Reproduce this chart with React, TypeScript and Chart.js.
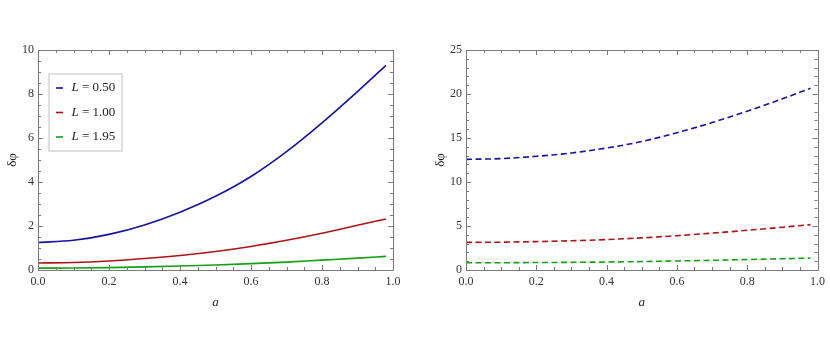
import React, { useEffect, useRef } from "react";
import { Chart, registerables } from "chart.js";

Chart.register(...registerables);

// ---- data ----
const aValues = [0, 0.1, 0.2, 0.3, 0.4, 0.5, 0.6, 0.7, 0.8, 0.9, 0.98];

// left panel (solid)
const leftL050 = [1.25, 1.35, 1.62, 2.05, 2.63, 3.35, 4.25, 5.38, 6.69, 8.11, 9.3];
const leftL100 = [0.32, 0.34, 0.41, 0.52, 0.66, 0.84, 1.07, 1.35, 1.67, 2.03, 2.32];
const leftL195 = [0.085, 0.09, 0.11, 0.14, 0.18, 0.23, 0.29, 0.36, 0.45, 0.54, 0.62];

// right panel (dashed)
const rightL050 = [12.57, 12.66, 12.92, 13.3, 13.86, 14.6, 15.6, 16.75, 18.05, 19.45, 20.65];
const rightL100 = [3.14, 3.16, 3.23, 3.32, 3.46, 3.65, 3.9, 4.19, 4.51, 4.86, 5.16];
const rightL195 = [0.83, 0.83, 0.85, 0.87, 0.91, 0.96, 1.03, 1.1, 1.19, 1.28, 1.36];

const legendLabels = ["0.50", "1.00", "1.95"];
const seriesColors = ["#1414a6", "#b01414", "#14a014"];

const xAxisTitle = "a";
const yAxisTitle = "δφ";
const legendSymbol = "L";

const SERIF = '"Liberation Serif", "Times New Roman", serif';
const AXIS_COLOR = "#7a7a7a";
const LABEL_COLOR = "#333";

type PanelCfg = {
  series: number[][];
  dashed: boolean;
  yMax: number;
  yStep: number;
  yMinor: number;
  padLeftArea: number; // width of y scale
  padRight: number;
  yTitlePad: number;
  legend: boolean;
};

const ticksPlugin = (cfg: PanelCfg) => ({
  id: "mmaTicks",
  afterDraw(chart: any) {
    const { ctx, chartArea } = chart;
    const xs = chart.scales.x;
    const ys = chart.scales.y;
    const { left, right, top, bottom } = chartArea;
    ctx.save();
    ctx.strokeStyle = AXIS_COLOR;
    ctx.lineWidth = 1;
    ctx.beginPath();
    ctx.rect(Math.round(left) + 0.5, Math.round(top) + 0.5, Math.round(right - left), Math.round(bottom - top));
    ctx.stroke();
    ctx.beginPath();
    // x ticks
    for (let i = 0; i <= 20; i++) {
      const v = i * 0.05;
      const px = Math.round(xs.getPixelForValue(v)) + 0.5;
      const len = i % 4 === 0 ? 5 : 3;
      ctx.moveTo(px, bottom);
      ctx.lineTo(px, bottom - len);
      ctx.moveTo(px, top);
      ctx.lineTo(px, top + len);
    }
    // y ticks
    const n = Math.round(cfg.yMax / cfg.yMinor);
    const per = Math.round(cfg.yStep / cfg.yMinor);
    for (let i = 0; i <= n; i++) {
      const v = i * cfg.yMinor;
      const py = Math.round(ys.getPixelForValue(v)) + 0.5;
      const len = i % per === 0 ? 5 : 3;
      ctx.moveTo(left, py);
      ctx.lineTo(left + len, py);
      ctx.moveTo(right, py);
      ctx.lineTo(right - len, py);
    }
    ctx.stroke();

    if (cfg.legend) {
      const bx = left + 11;
      const by = top + 24;
      const bw = 73;
      const bh = 77;
      ctx.fillStyle = "#fff";
      ctx.fillRect(bx, by, bw, bh);
      ctx.strokeStyle = "#d6d6d6";
      ctx.lineWidth = 1.6;
      ctx.strokeRect(bx, by, bw, bh);
      const rows = [by + 14, by + 38.5, by + 63];
      legendLabels.forEach((lab, i) => {
        const y = rows[i];
        ctx.strokeStyle = seriesColors[i];
        ctx.lineWidth = 1.6;
        ctx.beginPath();
        ctx.moveTo(bx + 7, y);
        ctx.lineTo(bx + 14, y);
        ctx.stroke();
        ctx.fillStyle = "#222";
        ctx.textBaseline = "middle";
        ctx.textAlign = "left";
        ctx.font = "italic 13px " + SERIF;
        const tx = bx + 22.5;
        ctx.fillText(legendSymbol, tx, y);
        const w = ctx.measureText(legendSymbol).width;
        ctx.font = "13px " + SERIF;
        ctx.fillText(" = " + lab, tx + w, y);
      });
    }
    ctx.restore();
  },
});

function Panel({ cfg, left }: { cfg: PanelCfg; left: number }) {
  const ref = useRef<HTMLCanvasElement | null>(null);
  useEffect(() => {
    if (!ref.current) return;
    const chart = new Chart(ref.current, {
      type: "line",
      data: {
        datasets: cfg.series.map((s, i) => ({
          data: aValues.map((a, j) => ({ x: a, y: s[j] })),
          borderColor: seriesColors[i],
          borderWidth: 1.6,
          borderDash: cfg.dashed ? [6, 3.5] : [],
          pointRadius: 0,
          fill: false,
          cubicInterpolationMode: "monotone" as const,
        })),
      },
      options: {
        responsive: false,
        animation: false,
        events: [],
        layout: { padding: { top: 50, right: cfg.padRight, bottom: 43, left: 0 } },
        plugins: { legend: { display: false }, tooltip: { enabled: false } },
        scales: {
          x: {
            type: "linear",
            min: 0,
            max: 1,
            grid: { display: false, drawTicks: false },
            border: { display: false },
            ticks: {
              stepSize: 0.2,
              autoSkip: false,
              maxRotation: 0,
              padding: 5,
              color: LABEL_COLOR,
              font: { family: SERIF, size: 12 },
              callback: (v: any) => Number(v).toFixed(1),
            },
            title: {
              display: true,
              text: xAxisTitle,
              color: "#222",
              padding: { top: 0, bottom: 0 },
              font: { family: SERIF, size: 13, style: "italic" },
            },
            afterFit: (s: any) => {
              s.height = 40;
            },
          },
          y: {
            type: "linear",
            min: 0,
            max: cfg.yMax,
            grid: { display: false, drawTicks: false },
            border: { display: false },
            ticks: {
              stepSize: cfg.yStep,
              autoSkip: false,
              padding: 4,
              color: LABEL_COLOR,
              font: { family: SERIF, size: 12 },
            },
            title: {
              display: true,
              text: yAxisTitle,
              color: "#222",
              padding: { top: cfg.yTitlePad, bottom: 0 },
              font: { family: SERIF, size: 13 },
            },
            afterFit: (s: any) => {
              s.width = cfg.padLeftArea;
            },
          },
        },
      },
      plugins: [ticksPlugin(cfg)],
    } as any);
    return () => chart.destroy();
  }, []);
  return (
    <canvas
      ref={ref}
      width={415}
      height={353}
      style={{ position: "absolute", left, top: 0, width: 415, height: 353 }}
    />
  );
}

export default function App() {
  const leftCfg: PanelCfg = {
    series: [leftL050, leftL100, leftL195],
    dashed: false,
    yMax: 10,
    yStep: 2,
    yMinor: 0.5,
    padLeftArea: 38,
    padRight: 22,
    yTitlePad: 5,
    legend: true,
  };
  const rightCfg: PanelCfg = {
    series: [rightL050, rightL100, rightL195],
    dashed: true,
    yMax: 25,
    yStep: 5,
    yMinor: 1,
    padLeftArea: 51,
    padRight: 8,
    yTitlePad: 18,
    legend: false,
  };
  return (
    <div style={{ position: "absolute", left: 0, top: 0, width: 830, height: 353, background: "#fff" }}>
      <Panel cfg={leftCfg} left={0} />
      <Panel cfg={rightCfg} left={415} />
    </div>
  );
}
